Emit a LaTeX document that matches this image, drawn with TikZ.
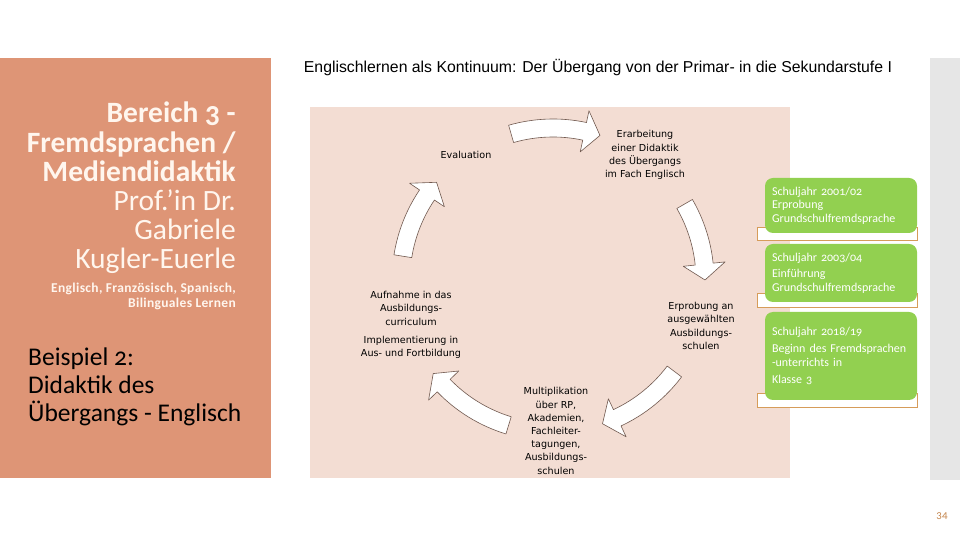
\documentclass[tikz,border=0pt]{standalone}
\usepackage{fontspec}
\setmainfont{Carlito}[Numbers=OldStyle]
\newfontfamily\cyclefont{DejaVu Sans}
\newfontfamily\titlefont{Liberation Sans}
\usepackage{xcolor}
\usetikzlibrary{positioning}

\definecolor{panel}{RGB}{222,149,118}
\definecolor{paneltext}{RGB}{255,246,238}
\definecolor{sidebar}{RGB}{230,230,230}
\definecolor{cyclebg}{RGB}{243,221,211}
\definecolor{boxgreen}{RGB}{146,208,80}
\definecolor{frameorange}{RGB}{214,156,90}
\definecolor{arrowline}{RGB}{112,88,78}
\definecolor{pagenum}{RGB}{196,134,78}

\begin{document}
\begin{tikzpicture}[x=1pt, y=1pt]
    % Styles
    \tikzstyle{stage} = [font=\cyclefont\fontsize{9.6}{13.2}\selectfont, align=center, inner sep=0pt]
    \tikzstyle{cyclearrow} = [draw=arrowline, fill=white, line width=0.6pt, line join=round]
    \tikzstyle{yearframe} = [draw=frameorange, fill=white, line width=0.8pt]
    \tikzstyle{yearbox} = [fill=boxgreen, rounded corners=8pt, minimum width=152pt, text width=138pt, inner xsep=7pt, inner ysep=0pt, align=left, text=white, font=\fontsize{12}{13.5}\selectfont]

    \useasboundingbox (0,0) rectangle (960,540);

    % Backgrounds
    \fill[panel] (0,62) rectangle (271,482);
    \fill[sidebar] (930,60) rectangle (960,482);
    \fill[cyclebg] (310,62) rectangle (790,433);

    % Title
    \node[font=\titlefont\fontsize{15.8}{18}\selectfont] (Title) at (598,472) {Englischlernen als Kontinuum: Der Übergang von der Primar- in die Sekundarstufe I};

    % Left panel
    \node[anchor=north east, align=right, inner sep=0pt, text=paneltext, font=\fontsize{29.5}{29.2}\selectfont] (Bereich) at (236,438)
        {\textbf{Bereich 3 -}\\\textbf{Fremdsprachen /}\\\textbf{Mediendidaktik}\\Prof.’in Dr.\\Gabriele\\Kugler-Euerle};
    \node[anchor=north east, align=right, inner sep=0pt, text=paneltext, font=\bfseries\fontsize{13.5}{15}\selectfont\addfontfeatures{LetterSpace=2.5}] (Faecher) at (236,257)
        {Englisch, Französisch, Spanisch,\\Bilinguales Lernen};
    \node[anchor=north west, align=left, inner sep=0pt, font=\fontsize{25.5}{28}\selectfont] (Beispiel) at (28,192)
        {Beispiel 2:\\Didaktik des\\Übergangs - Englisch};

    % Cycle stages
    \node[stage] (Eval) at (466,385) {Evaluation};
    \node[stage] (Erarb) at (645,385) {Erarbeitung\\einer Didaktik\\des Übergangs\\im Fach Englisch};
    \node[stage] (Erprob) at (701,214) {Erprobung an\\ausgewählten\\Ausbildungs-\\schulen};
    \node[stage] (Multi) at (556,109) {Multiplikation\\über RP,\\Akademien,\\Fachleiter-\\tagungen,\\Ausbildungs-\\schulen};
    \node[stage] (Aufn) at (411,215) {Aufnahme in das\\Ausbildungs-\\curriculum\\[5pt]Implementierung in\\Aus- und Fortbildung};

    % Cycle arrows
    \begin{scope}[shift={(553,260)}]
        \foreach \a/\b in {106/72, 30/0, -37/-71, -107/-142, 171/140}
            \draw[cyclearrow] (\a:161) arc[start angle=\a, end angle=\b+6, radius=161]
                -- (\b+6:173) -- (\b:152) -- (\b+6:131) -- (\b+6:143)
                arc[start angle=\b+6, end angle=\a, radius=143] -- cycle;
    \end{scope}

    % School years
    \draw[yearframe] (757,300) rectangle (917,313);
    \draw[yearframe] (757,233) rectangle (917,247);
    \draw[yearframe] (757,133) rectangle (917,147);
    \node[yearbox, minimum height=55pt] (Yr1) at (841,334.5)
        {Schuljahr 2001/02\\Erprobung\\Grundschulfremdsprache};
    \node[yearbox, minimum height=58pt] (Yr2) at (841,267)
        {Schuljahr 2003/04\\[3pt]Einführung\\Grundschulfremdsprache};
    \node[yearbox, minimum height=88pt] (Yr3) at (841,184)
        {Schuljahr 2018/19\\[4pt]Beginn des Fremdsprachen\\-unterrichts in\\[4pt]Klasse 3};

    % Page number
    \node[text=pagenum, font=\fontsize{11}{12}\selectfont] (Page) at (942,24) {34};
\end{tikzpicture}
\end{document}
